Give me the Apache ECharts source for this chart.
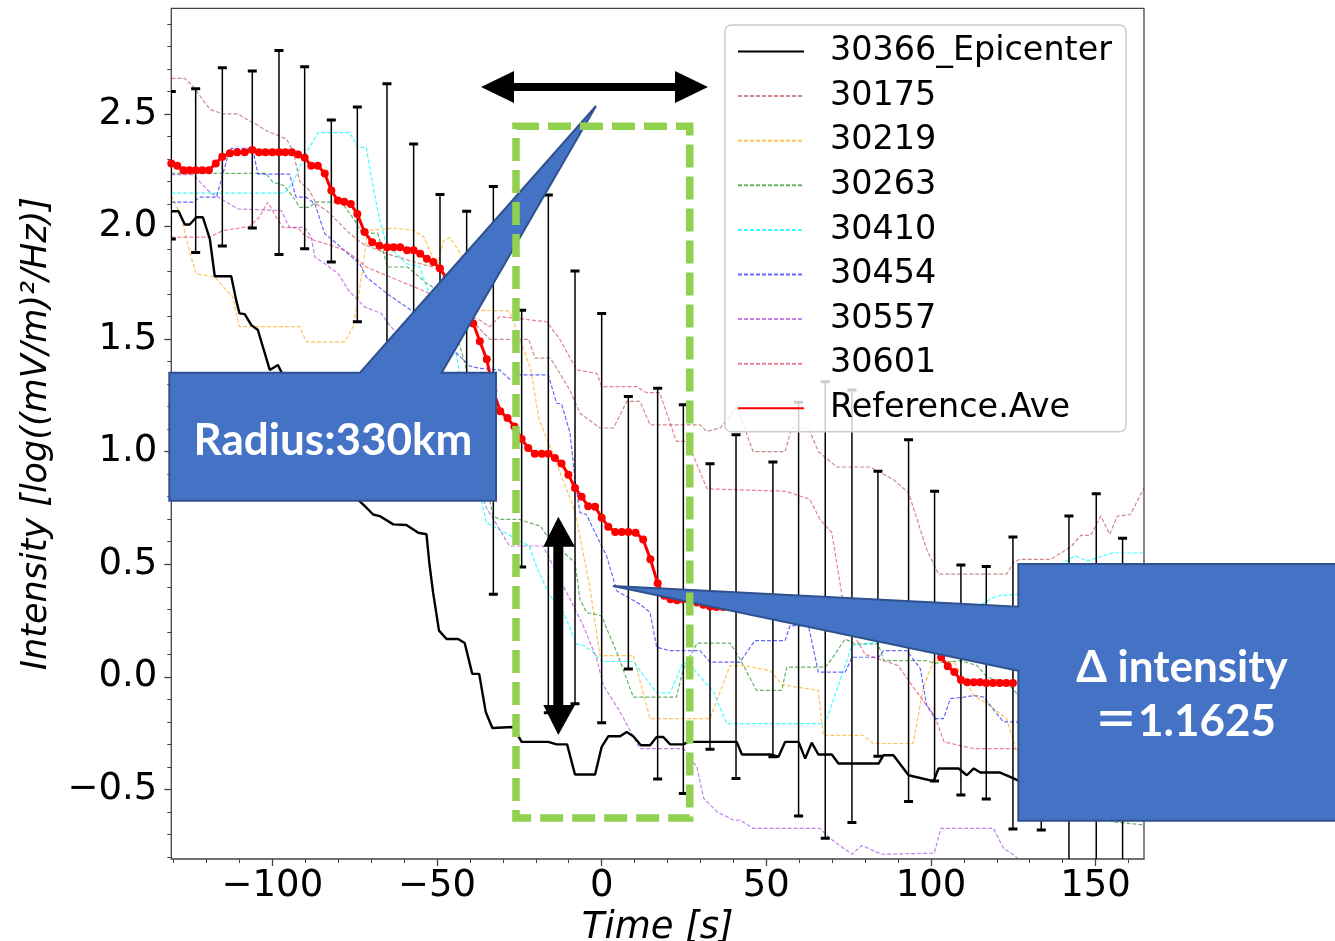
<!DOCTYPE html>
<html><head><meta charset="utf-8">
<script src="https://cdn.jsdelivr.net/npm/echarts@6/dist/echarts.min.js"></script>
<style>html,body{margin:0;padding:0;background:#fff}#c{width:1335px;height:941px}</style>
</head><body><div id="c"></div>
<script>
// ---------------- data ----------------
const xMajor = [-100, -50, 0, 50, 100, 150];
const xMinor = [-130,-120,-110,-100,-90,-80,-70,-60,-50,-40,-30,-20,-10,0,10,20,30,40,50,60,70,80,90,100,110,120,130,140,150,160];
const yMajor = [-0.5, 0, 0.5, 1, 1.5, 2, 2.5];
const yMinor = [-0.8,-0.7,-0.6,-0.5,-0.4,-0.3,-0.2,-0.1,0,0.1,0.2,0.3,0.4,0.5,0.6,0.7,0.8,0.9,1,1.1,1.2,1.3,1.4,1.5,1.6,1.7,1.8,1.9,2,2.1,2.2,2.3,2.4,2.5,2.6,2.7,2.8,2.9];

const seriesNames = ['30366_Epicenter','30175','30219','30263','30410','30454','30557','30601','Reference.Ave'];

const epicenter = [[-130.7,2.068],[-128.5,2.068],[-126.6,2.009],[-125.1,2.009],[-123.1,2.041],[-121.1,2.041],[-119,1.945],[-117.5,1.779],[-112.5,1.779],[-111,1.673],[-110,1.614],[-108.4,1.611],[-106.4,1.562],[-104.4,1.54],[-100.8,1.363],[-98.3,1.385],[-96.5,1.33],[-92,1.2],[-86,1.05],[-80,0.9],[-75,0.8],[-71.9,0.758],[-69.4,0.721],[-67.4,0.714],[-63.3,0.677],[-59.3,0.674],[-55.7,0.64],[-53.2,0.633],[-52.3,0.5],[-51.2,0.375],[-49.4,0.205],[-47.1,0.168],[-43.6,0.168],[-41.6,0.150],[-39.3,0.013],[-37.2,0.013],[-35.2,-0.156],[-33.2,-0.227],[-26.9,-0.223],[-24.3,-0.289],[-16.2,-0.289],[-13.7,-0.30],[-10.5,-0.30],[-8.1,-0.434],[-2,-0.434],[0,-0.311],[2,-0.264],[5.6,-0.264],[7.6,-0.245],[9.6,-0.264],[11.9,-0.304],[14.7,-0.304],[16.7,-0.267],[18.7,-0.267],[20.8,-0.30],[24.8,-0.30],[26.3,-0.289],[41,-0.289],[42.6,-0.345],[51.2,-0.345],[53.7,-0.355],[55.7,-0.289],[59.8,-0.289],[61.8,-0.363],[63.8,-0.292],[65.8,-0.345],[69.9,-0.345],[71.9,-0.385],[84.1,-0.385],[85.6,-0.348],[88.6,-0.348],[93.2,-0.437],[100.8,-0.463],[102.3,-0.407],[108.4,-0.407],[110.9,-0.437],[113,-0.407],[115,-0.425],[121,-0.425],[125.1,-0.451],[127,-0.465],[135,-0.48],[150,-0.5],[164.7,-0.5]];

const s30175 = [[-130.7,2.658],[-126.6,2.658],[-124,2.62],[-119,2.52],[-115,2.50],[-110.5,2.50],[-107,2.469],[-104.9,2.454],[-101.8,2.425],[-95.7,2.388],[-93.7,2.336],[-91.7,2.20],[-88.7,2.159],[-86.6,2.10],[-83.6,2.071],[-80.5,2.027],[-76.5,1.968],[-72.5,1.923],[-65.3,1.879],[-55.2,1.835],[-51.2,1.82],[-46.1,1.776],[-42,1.68],[-38,1.56],[-34,1.499],[-22.2,1.499],[-20.2,1.415],[-15.6,1.415],[-12.7,1.348],[-9.7,1.274],[-6.6,1.171],[-0.5,1.105],[3.6,1.105],[7.6,1.223],[11.6,1.223],[14.7,1.119],[29.9,1.119],[31.9,1.09],[36,1.105],[38.5,1.15],[41,1.2],[43.5,1.1],[46,1.0],[55.7,1.0],[57.7,1.105],[62.8,1.105],[65.8,1.0],[71.4,0.932],[81.5,0.932],[88.6,0.876],[93.2,0.817],[98.7,0.566],[102.3,0.456],[123,0.456],[125,0.507],[127,0.522],[136.4,0.522],[142.5,0.578],[145.5,0.628],[148.5,0.628],[151.6,0.714],[154.3,0.633],[156.6,0.714],[160.6,0.721],[164.7,0.839]];

const s30219 = [[-130.7,2.137],[-128,2.056],[-125,1.879],[-123.1,1.79],[-117.5,1.776],[-114,1.717],[-112,1.687],[-111,1.614],[-110,1.555],[-91.7,1.555],[-89.7,1.488],[-78,1.488],[-75.5,1.555],[-74,1.673],[-71,1.982],[-63,1.993],[-57,1.982],[-54,1.953],[-50,1.82],[-48,1.938],[-46,1.95],[-43.5,1.894],[-40,1.79],[-37,1.628],[-28,1.625],[-24,1.466],[-21.5,1.363],[-19,1.142],[-16.5,1.053],[-14,0.965],[-12.6,0.906],[-8.1,0.736],[-3.5,0.389],[-0.5,0.094],[9.6,0.094],[14.7,-0.186],[32.9,-0.186],[39,0.05],[43,0.05],[51.2,0.028],[54.7,-0.035],[65.8,-0.06],[67.3,-0.26],[79.4,-0.26],[82.5,-0.296],[94.6,-0.296],[97.7,-0.046],[100.8,0.072],[107,0.066],[113,-0.083],[117,-0.119],[123,-0.186],[126.1,-0.333],[130,-0.4],[164.7,-0.45]];

const s30263 = [[-130.7,2.236],[-102,2.236],[-99.8,2.196],[-96.3,2.181],[-93.7,2.13],[-91.7,2.085],[-88.7,2.085],[-87,2.108],[-79,2.108],[-75,2.027],[-73,1.975],[-68,1.968],[-65,1.82],[-59,1.82],[-53,1.746],[-50,1.72],[-45,1.6],[-43,1.466],[-41,1.363],[-37,1.0],[-33,0.714],[-31,0.699],[-25,0.699],[-18.6,0.669],[-16.6,0.625],[-11.5,0.552],[-8.1,0.507],[-6.6,0.345],[-4.6,0.286],[0,0.271],[2,0.198],[4.6,0.109],[9.6,-0.09],[22.7,-0.09],[24.8,0.035],[29,0.15],[39,0.15],[42,0.08],[47,-0.06],[54.7,-0.06],[56.2,0.043],[67.9,0.043],[69.9,0.08],[73.9,0.168],[77,0.146],[84,0.146],[85.6,0.072],[98.7,0.072],[101,0.06],[109,0.072],[114,0.05],[117,-0.001],[123,-0.024],[126.1,-0.075],[135,-0.3],[150,-0.6],[155,-0.643],[164.7,-0.658]];

const s30410 = [[-130.7,2.148],[-96.3,2.148],[-93.7,2.196],[-89.7,2.329],[-86.1,2.417],[-76.5,2.417],[-74,2.351],[-71.5,2.351],[-69.4,2.175],[-67.4,2.027],[-65.4,1.923],[-59.3,1.835],[-55.2,1.82],[-53.2,1.731],[-45,1.5],[-40,1.1],[-37,0.817],[-35,0.684],[-33,0.669],[-22,0.581],[-19.5,0.478],[-15.7,0.36],[-11.6,0.286],[-7.6,0.146],[-5.6,0.139],[-2.5,0.109],[0,0.068],[9.6,0.068],[16.7,-0.071],[20.8,-0.071],[24.8,0.065],[27.9,0.035],[34,-0.068],[38,-0.208],[67.9,-0.208],[76,0.139],[83.6,0.153],[100,0.2],[120,0.36],[127,0.367],[141.9,0.522],[143.9,0.537],[147.5,0.515],[155,0.55],[164.7,0.55]];

const s30454 = [[-130.7,2.108],[-124.1,2.108],[-122,2.13],[-117,2.13],[-113.5,2.314],[-112.5,2.347],[-106,2.347],[-104.4,2.233],[-94.8,2.233],[-92.8,2.13],[-89.7,2.13],[-87.1,2.1],[-84.1,1.968],[-82.1,1.945],[-77.6,1.886],[-73.5,1.835],[-71.5,1.776],[-65,1.7],[-55,1.6],[-45,1.45],[-40,1.38],[-37,1.37],[-31,1.363],[-28,1.322],[-25,1.341],[-16.2,1.341],[-13.7,1.215],[-12.2,1.212],[-9.6,1.083],[-8.1,0.876],[-6.6,0.729],[-4.6,0.721],[-2.5,0.655],[1.5,0.537],[4.6,0.382],[11.6,0.323],[14.7,0.286],[16.7,0.131],[20.8,0.116],[29.9,0.116],[32.9,0.065],[42,0.065],[46.5,0.161],[55.7,0.161],[57.2,0.227],[62.8,0.227],[65.8,0.021],[74,0.021],[76,0.087],[84.1,0.087],[85.6,0.116],[92.7,0.116],[96.8,0.035],[98.7,-0.127],[101.3,-0.186],[103.8,-0.186],[105.9,-0.097],[110,-0.09],[113,-0.083],[116,-0.09],[122,-0.2],[126,-0.2],[140,-0.3],[164.7,-0.3]];

const s30557 = [[-130.7,2.23],[-124.1,2.23],[-119,2.152],[-110.5,2.078],[-103.4,2.074],[-97.3,2.071],[-94.8,1.996],[-90.2,1.996],[-88.2,1.953],[-87.1,1.864],[-84.1,1.835],[-80,1.79],[-76.9,1.717],[-72,1.643],[-67,1.614],[-64,1.555],[-61,1.51],[-55,1.4],[-48,1.2],[-40,0.95],[-35,0.75],[-31,0.655],[-28,0.581],[-17.8,0.581],[-9.6,0.345],[-5.6,0.227],[-1.5,0.08],[0.5,-0.038],[5.6,-0.156],[11.6,-0.319],[24.8,-0.319],[28.9,-0.4],[31,-0.54],[35,-0.599],[40,-0.636],[42,-0.636],[46,-0.673],[66.3,-0.673],[69.3,-0.717],[76,-0.788],[79,-0.749],[85,-0.788],[101,-0.783],[103,-0.673],[119,-0.673],[122,-0.761],[125,-0.79],[130,-0.85],[164.7,-0.9]];

const s30601 = [[-130.7,1.953],[-119,1.953],[-115,1.982],[-107,2.0],[-104,2.041],[-101.4,2.108],[-98.8,2.04],[-96.8,1.996],[-92.2,1.994],[-90.2,1.96],[-87.2,1.938],[-82.1,1.916],[-78,1.894],[-75,1.864],[-71.5,1.82],[-65,1.78],[-55,1.72],[-46,1.66],[-40,1.6],[-37,1.584],[-34,1.555],[-31,1.6],[-16.7,1.577],[-12.7,1.499],[-7.6,1.363],[-1.5,1.348],[0,1.289],[10.6,1.289],[13.6,1.262],[17.6,1.262],[22.7,1.046],[25.8,1.046],[27.9,0.98],[32,0.835],[56,0.824],[63.2,0.788],[66.3,0.699],[69.9,0.64],[73,0.36],[76,0.2],[80,0.1],[90,0.05],[95,-0.053],[101,-0.171],[104,-0.289],[113,-0.319],[125,-0.319],[135,-0.35],[164.7,-0.4]];

const aveTime = [-130.7,-128.9,-127.0,-125.2,-123.3,-121.3,-119.3,-117.2,-115.2,-112.9,-110.7,-108.4,-106.1,-104.1,-102.1,-100.0,-98.0,-96.1,-94.1,-92.2,-90.2,-88.2,-86.2,-84.1,-82.1,-80.1,-78.2,-76.2,-74.2,-72.0,-69.7,-67.5,-65.2,-63.2,-61.2,-59.1,-57.1,-55.1,-53.1,-51.1,-49.1,-47.1,-45.1,-43.0,-41.0,-39.0,-37.0,-34.9,-32.9,-30.8,-28.6,-26.5,-24.3,-22.3,-20.3,-18.2,-16.2,-14.2,-12.2,-10.1,-8.1,-6.1,-4.1,-2.0,0,2.0,4.1,6.1,8.1,10.3,12.6,14.8,17.0,19.0,20.9,22.9,24.8,26.8,28.9,30.9,32.9,34.9,36.9,38.8,40.8,43.6,46.4,49.2,52.0,54.0,55.9,57.9,59.8,61.8,63.9,65.9,67.9,69.9,72.0,74.0,76.0,78.0,80.0,81.9,83.9,86.2,88.6,90.9,93.2,95.2,97.2,99.1,101.1,103.1,105.1,107.1,109.1,111.0,113.0,114.9,116.8,118.8,120.9,122.9,124.9];
const aveValue = [2.28,2.27,2.25,2.25,2.25,2.25,2.25,2.28,2.31,2.325,2.33,2.33,2.34,2.33,2.33,2.33,2.33,2.33,2.33,2.32,2.305,2.27,2.27,2.235,2.16,2.115,2.11,2.10,2.055,1.975,1.93,1.915,1.908,1.908,1.908,1.894,1.894,1.879,1.857,1.842,1.813,1.77,1.72,1.67,1.62,1.569,1.49,1.41,1.27,1.18,1.149,1.112,1.056,1.016,0.991,0.991,0.991,0.972,0.947,0.898,0.839,0.80,0.758,0.755,0.707,0.667,0.643,0.643,0.643,0.64,0.61,0.522,0.416,0.36,0.345,0.34,0.345,0.335,0.33,0.32,0.312,0.31,0.31,0.31,0.312,0.31,0.305,0.30,0.30,0.30,0.29,0.285,0.28,0.285,0.29,0.295,0.297,0.30,0.305,0.31,0.313,0.305,0.295,0.285,0.28,0.27,0.265,0.255,0.25,0.235,0.215,0.20,0.18,0.087,0.047,0.021,-0.014,-0.024,-0.024,-0.024,-0.027,-0.027,-0.027,-0.027,-0.027];

const errTime = [-130.7,-123.3,-115.2,-106.1,-98.0,-90.2,-82.1,-74.2,-65.2,-57.1,-49.1,-41.0,-32.9,-24.3,-16.2,-8.1,0,8.1,17.0,24.8,32.9,40.8,52.0,59.8,67.9,76.0,83.9,93.2,101.1,109.1,116.8,124.9,133.5,141.9,150.2,158.2];
const errHigh = [2.599,2.612,2.705,2.69,2.782,2.709,2.473,2.531,2.634,2.366,2.142,2.068,2.178,1.628,2.14,1.802,1.614,1.245,1.282,1.208,0.946,1.075,0.954,1.22,1.311,1.274,0.913,1.053,0.824,0.497,0.49,0.621,0.45,0.714,0.813,0.615];
const errLow = [1.945,1.884,1.913,1.993,1.876,1.901,1.842,1.577,1.18,1.30,1.25,1.0,0.367,0.488,-0.159,-0.119,-0.204,0.035,-0.454,-0.518,-0.322,-0.451,-0.355,-0.618,-0.717,-0.647,-0.353,-0.554,-0.463,-0.525,-0.543,-0.676,-0.68,-0.85,-0.9,-0.85];

// ---------------- chart ----------------
const chart = echarts.init(document.getElementById('c'), null, {renderer: 'canvas'});
const FONT = '"DejaVu Sans", sans-serif';
const minus = v => (v < 0 ? '\u2212' : '') + Math.abs(v);
const GL = 171.3, GT = 8.3, GR = 1144, GB = 859;
const noLine = {show: false, onZero: false};

function thin(name, data, color) {
  return {name, type: 'line', data, symbol: 'none', z: 2,
    lineStyle: {color, width: 1.2, type: [4, 2]}, itemStyle: {color}};
}

const option = {
  animation: false,
  backgroundColor: '#fff',
  grid: {left: GL, top: GT, width: GR - GL, height: GB - GT, containLabel: false, outerBoundsMode: 'none',
    show: true, borderColor: '#444', borderWidth: 1.3, backgroundColor: 'transparent'},
  xAxis: [
    {type: 'value', min: -130.7, max: 164.7, splitLine: {show: false},
      axisLine: noLine,
      axisTick: {show: true, customValues: xMajor, length: 7, lineStyle: {color: '#444', width: 1.3}},
      axisLabel: {customValues: xMajor, formatter: minus, fontSize: 37, fontFamily: FONT, color: '#000', margin: 9},
      name: 'Time [s]', nameLocation: 'middle', nameGap: 44,
      nameTextStyle: {fontSize: 37, fontStyle: 'italic', fontFamily: FONT, color: '#000'}},
    {type: 'value', min: -130.7, max: 164.7, position: 'bottom', splitLine: {show: false},
      axisLine: noLine, axisLabel: {show: false},
      axisTick: {show: true, customValues: xMinor, length: 4, lineStyle: {color: '#444', width: 1}}}
  ],
  yAxis: [
    {type: 'value', min: -0.809, max: 2.969, splitLine: {show: false},
      axisLine: noLine,
      axisTick: {show: true, customValues: yMajor, length: 7, lineStyle: {color: '#444', width: 1.3}},
      axisLabel: {customValues: yMajor, formatter: v => (v < 0 ? '\u2212' : '') + Math.abs(v).toFixed(1), fontSize: 37, fontFamily: FONT, color: '#000', margin: 14},
      name: 'Intensity [log((mV/m)\u00B2/Hz)]', nameLocation: 'middle', nameGap: 117, nameRotate: 90,
      nameTextStyle: {fontSize: 35, fontStyle: 'italic', fontFamily: FONT, color: '#000'}},
    {type: 'value', min: -0.809, max: 2.969, position: 'left', splitLine: {show: false},
      axisLine: noLine, axisLabel: {show: false},
      axisTick: {show: true, customValues: yMinor, length: 4, lineStyle: {color: '#444', width: 1}}}
  ],
  legend: {
    data: seriesNames, orient: 'vertical', left: 725, top: 25,
    padding: [10, 14, 7, 12], itemGap: 11.6, itemWidth: 66, itemHeight: 2,
    backgroundColor: 'rgba(255,255,255,0.8)', borderColor: '#cccccc', borderWidth: 1.5, borderRadius: 6,
    itemStyle: {opacity: 0},
    textStyle: {fontSize: 33.4, lineHeight: 33, fontFamily: FONT, color: '#000', padding: [0, 0, 0, 21]},
    z: 6
  },
  series: [
    {name: '30366_Epicenter', type: 'line', data: epicenter, symbol: 'none', z: 3,
      lineStyle: {color: '#000', width: 2.4}, itemStyle: {color: '#000'}},
    thin('30175', s30175, 'rgba(165,42,42,0.55)'),
    thin('30219', s30219, 'rgba(255,165,0,0.65)'),
    thin('30263', s30263, 'rgba(0,128,0,0.6)'),
    thin('30410', s30410, 'rgba(0,255,255,0.75)'),
    thin('30454', s30454, 'rgba(0,0,255,0.6)'),
    thin('30557', s30557, 'rgba(148,0,211,0.5)'),
    thin('30601', s30601, 'rgba(220,20,60,0.55)'),
    {name: 'errorbar', type: 'custom', z: 4, clip: true,
      data: errTime.map((t, i) => [t, errLow[i], errHigh[i]]),
      encode: {x: 0, y: [1, 2]},
      renderItem: function (params, api) {
        const lo = api.coord([api.value(0), api.value(1)]);
        const hi = api.coord([api.value(0), api.value(2)]);
        const cw = 4.5;
        return {type: 'group', children: [
          {type: 'line', shape: {x1: lo[0], y1: lo[1], x2: hi[0], y2: hi[1]}, style: {stroke: '#000', lineWidth: 1.5}},
          {type: 'line', shape: {x1: lo[0] - cw, y1: lo[1], x2: lo[0] + cw, y2: lo[1]}, style: {stroke: '#000', lineWidth: 3}},
          {type: 'line', shape: {x1: hi[0] - cw, y1: hi[1], x2: hi[0] + cw, y2: hi[1]}, style: {stroke: '#000', lineWidth: 3}}
        ]};
      }},
    {name: 'Reference.Ave', type: 'line', z: 5,
      data: aveTime.map((t, i) => [t, aveValue[i]]),
      symbol: 'circle', symbolSize: 8,
      lineStyle: {color: '#ff0000', width: 3}, itemStyle: {color: '#ff0000'}}
  ],
  graphic: {elements: [
    {type: 'polygon', z: 100, shape: {points: [[169.3,372.7],[360,372.7],[596,106],[441.7,372.7],[496,372.7],[496,500.7],[169.3,500.7]]},
      style: {fill: '#4472C4', stroke: '#2F528F', lineWidth: 2}},
    {type: 'text', z: 103, x: 333, y: 441, style: {text: 'Radius:330km', fill: '#fff', font: 'bold 44px Lato, "Open Sans", sans-serif', textAlign: 'center', textVerticalAlign: 'middle', align: 'center', verticalAlign: 'middle'}},
    {type: 'polygon', z: 100, shape: {points: [[1018.3,564],[1345,564],[1345,820.7],[1018.3,820.7],[1018.3,670.7],[613,586],[1018.3,606.7]]},
      style: {fill: '#4472C4', stroke: '#2F528F', lineWidth: 2}},
    {type: 'text', z: 103, x: 1182, y: 668, style: {text: '\u0394 intensity', fill: '#fff', font: 'bold 44px Lato, "Open Sans", sans-serif', textAlign: 'center', textVerticalAlign: 'middle', align: 'center', verticalAlign: 'middle'}},
    {type: 'text', z: 103, x: 1185, y: 722, style: {text: '\uFF1D1.1625', fill: '#fff', font: 'bold 44px Lato, "Noto Sans CJK JP", sans-serif', textAlign: 'center', textVerticalAlign: 'middle', align: 'center', verticalAlign: 'middle'}},
    {type: 'rect', z: 101, shape: {x: 516, y: 126.3, width: 173.7, height: 691.7},
      style: {fill: 'none', stroke: '#92D050', lineWidth: 7.5, lineDash: [23, 9]}},
    {type: 'polygon', z: 102, shape: {points: [[481,87],[514,71],[514,83],[675,83],[675,71],[708,87],[675,103],[675,91],[514,91],[514,103]]},
      style: {fill: '#000'}},
    {type: 'polygon', z: 102, shape: {points: [[558.3,516.7],[575,546.7],[563.3,546.7],[563.3,705],[575,705],[558.3,735],[543.3,705],[553.3,705],[553.3,546.7],[543.3,546.7]]},
      style: {fill: '#000'}}
  ]}
};
chart.setOption(option);
</script>
</body></html>
